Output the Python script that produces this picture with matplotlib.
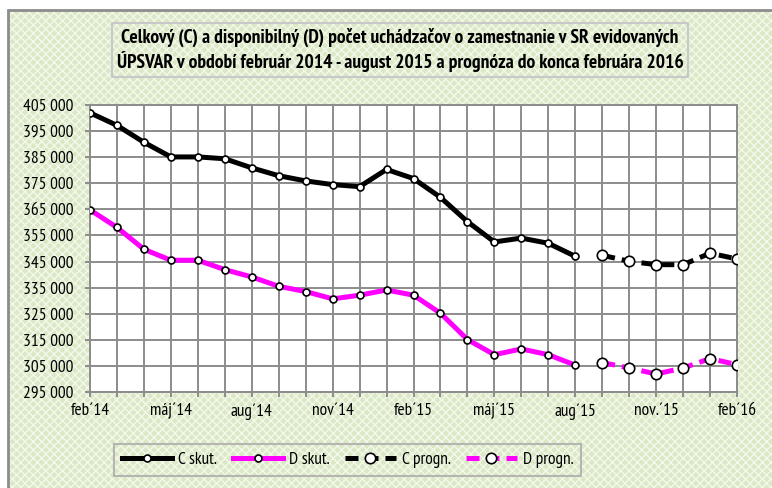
import matplotlib
matplotlib.use('Agg')
import matplotlib.pyplot as plt
from matplotlib import font_manager
from matplotlib.ft2font import FT2Font
from matplotlib.patches import Rectangle
from matplotlib.lines import Line2D

# data (monthly, feb 2014 - feb 2016)
months = ['feb´14', 'mar´14', 'apr´14', 'máj´14', 'jún´14', 'júl´14', 'aug´14', 'sep´14',
          'okt´14', 'nov´14', 'dec´14', 'jan´15', 'feb´15', 'mar´15', 'apr´15', 'máj´15',
          'jún´15', 'júl´15', 'aug´15', 'sep´15', 'okt´15', 'nov.´15', 'dec´15', 'jan´16', 'feb´16']
tick_labels = ['feb´14', 'máj´14', 'aug´14', 'nov´14', 'feb´15', 'máj´15', 'aug´15', 'nov.´15', 'feb´16']

c_actual = [402000, 397200, 390700, 385100, 385100, 384400, 380900, 377900, 375900, 374500,
            373700, 380300, 376800, 369600, 360300, 352500, 354000, 352000, 347000]
d_actual = [364800, 358100, 349700, 345500, 345500, 341900, 339100, 335500, 333500, 330700,
            332100, 334100, 332100, 325200, 315100, 309300, 311500, 309300, 305300]
c_forecast = [347400, 345100, 343800, 343800, 348200, 346000]
d_forecast = [306300, 304200, 301900, 304200, 307800, 305500]

title = ('Celkový (C) a disponibilný (D) počet uchádzačov o zamestnanie v SR evidovaných\n'
         'ÚPSVAR v období február 2014 - august 2015 a prognóza do konca februára 2016')


def good_font(name):
    # needs a bold face and the acute accent sign
    faces = [f for f in font_manager.fontManager.ttflist if f.name == name and f.style == 'normal']
    if not faces or not any(int(f.weight) >= 700 for f in faces if str(f.weight).isdigit()):
        return False
    try:
        cmap = FT2Font(faces[0].fname).get_charmap()
    except Exception:
        return False
    return all(ord(ch) in cmap for ch in '´čýáúô')


fam = 'Liberation Sans'
for cand in ['Liberation Sans Narrow', 'Arial Narrow', 'Archivo Narrow', 'PT Sans Narrow',
             'Roboto Condensed', 'Pragati Narrow', 'Fira Sans Condensed', 'IBM Plex Sans Condensed']:
    if good_font(cand):
        fam = cand
        break
plt.rcParams['font.family'] = [fam, 'DejaVu Sans']

DASH = (0, (2.6, 1.4))
LW = 3.6

fig = plt.figure(figsize=(7.72, 4.88), dpi=100)
fig.patch.set_facecolor('white')

# hatched green background with grey border
bg = Rectangle((8 / 772, 0), 1, 1 - 10 / 488, transform=fig.transFigure,
               facecolor='#dbe8c6', edgecolor='#f3f8ea', hatch='xxxx', lw=0, zorder=-10)
fig.patches.append(bg)
border = Rectangle((8 / 772, -0.01), 1, 1 - 10 / 488 + 0.01, transform=fig.transFigure,
                   facecolor='none', edgecolor='#8c8c8c', lw=2, zorder=-9)
fig.patches.append(border)

ax = fig.add_axes([90 / 772, 96 / 488, 647 / 772, 287 / 488])
ax.set_facecolor('white')

x_act = list(range(len(c_actual)))
x_fc = list(range(len(c_actual), len(c_actual) + len(c_forecast)))

ax.plot(x_act, c_actual, color='black', lw=LW, marker='o', ms=5, mfc='white', mec='black',
        mew=1.2, zorder=3, solid_joinstyle='round')
ax.plot(x_act, d_actual, color='#ff00ff', lw=LW, marker='o', ms=5, mfc='white', mec='black',
        mew=1.2, zorder=3, solid_joinstyle='round')
ax.plot(x_fc, c_forecast, color='black', lw=LW, ls=DASH, marker='o', ms=7.5,
        mfc='white', mec='black', mew=1.2, zorder=3)
ax.plot(x_fc, d_forecast, color='#ff00ff', lw=LW, ls=DASH, marker='o', ms=7.5,
        mfc='white', mec='black', mew=1.2, zorder=3)

ax.set_xlim(0, len(months) - 1)
ax.set_ylim(295000, 405000)
ax.set_xticks(range(len(months)))
ax.set_xticklabels([m if m in tick_labels else '' for m in months], fontsize=12.5)
yt = list(range(295000, 405001, 10000))
ax.set_yticks(yt)
ax.set_yticklabels(['{:,}'.format(v).replace(',', ' ') for v in yt], fontsize=12.5)
ax.tick_params(axis='both', direction='out', length=3.6, width=1.4, color='#8c8c8c')
ax.tick_params(axis='y', pad=8.6)
ax.tick_params(axis='x', pad=4.5)
ax.set_axisbelow(True)
ax.grid(True, which='major', axis='both', color='#8c8c8c', linewidth=1.4, linestyle='-')
for s in ax.spines.values():
    s.set_color('#8c8c8c')
    s.set_linewidth(1.4)

fig.text(0.518, 1 - 50 / 488, title, ha='center', va='center', fontsize=14, fontweight='bold',
         linespacing=1.2,
         bbox=dict(boxstyle='square,pad=0.25', facecolor='none', edgecolor='#c8c8c8', lw=1.5))

handles = [
    Line2D([], [], color='black', lw=LW, marker='o', ms=5, mfc='white', mec='black', mew=1.2),
    Line2D([], [], color='#ff00ff', lw=LW, marker='o', ms=5, mfc='white', mec='black', mew=1.2),
    Line2D([], [], color='black', lw=LW, ls=DASH, marker='o', ms=7.5, mfc='white',
           mec='black', mew=1.2),
    Line2D([], [], color='#ff00ff', lw=LW, ls=DASH, marker='o', ms=7.5, mfc='white',
           mec='black', mew=1.2),
]
leg = fig.legend(handles, ['C skut.', 'D skut.', 'C progn.', 'D progn.'], loc='center',
                 bbox_to_anchor=(347.5 / 772, 1 - 460 / 488), ncol=4, fontsize=12.5,
                 handlelength=2.9, columnspacing=0.9, handletextpad=0.35, fancybox=False,
                 borderpad=0.45, borderaxespad=0)
leg.get_frame().set_facecolor('none')
leg.get_frame().set_edgecolor('#a8a8a8')
leg.get_frame().set_linewidth(1.5)

fig.savefig('out.png', dpi=100)
